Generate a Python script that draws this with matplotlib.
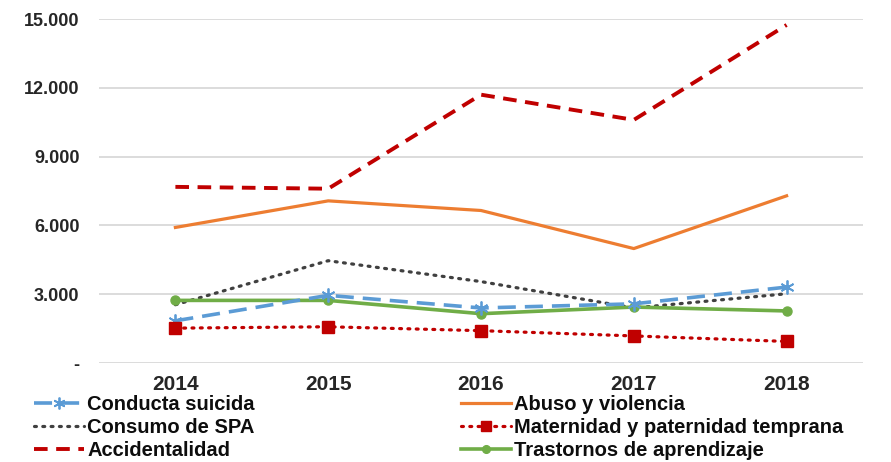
import matplotlib
matplotlib.use("Agg")
import matplotlib.pyplot as plt

years = ["2014", "2015", "2016", "2017", "2018"]
conducta_suicida = [1840, 2950, 2400, 2580, 3310]
abuso_violencia = [5910, 7070, 6650, 4990, 7290]
consumo_spa = [2540, 4460, 3550, 2400, 3020]
maternidad = [1520, 1580, 1410, 1180, 940]
accidentalidad = [7680, 7600, 11700, 10600, 14740]
trastornos = [2730, 2730, 2150, 2440, 2270]
y_ticks = [0, 3000, 6000, 9000, 12000, 15000]
y_tick_labels = ["-", "3.000", "6.000", "9.000", "12.000", "15.000"]

plt.rcParams['font.family'] = ['Liberation Sans', 'DejaVu Sans']
plt.rcParams['font.weight'] = 'bold'

fig = plt.figure(figsize=(8.91, 4.62), dpi=100)
ax = fig.add_axes([99/891, 1 - 363/462, (863-99)/891, (363-19)/462])

x = list(range(len(years)))
blue = '#5B9BD5'
orange = '#ED7D31'
gray = '#404040'
red = '#C00000'
green = '#70AD47'

asterisk = (6, 2, 0)
l_cs, = ax.plot(x, conducta_suicida, color=blue, lw=2.6, dashes=(5, 2.5),
                marker=asterisk, ms=10, mew=1.3, label='Conducta suicida', zorder=4)
l_ab, = ax.plot(x, abuso_violencia, color=orange, lw=2.3, label='Abuso y violencia', zorder=3)
l_sp, = ax.plot(x, consumo_spa, color=gray, lw=2.3, linestyle=(0, (0.6, 2.0)),
                dash_capstyle='round', label='Consumo de SPA', zorder=3)
l_ma, = ax.plot(x, maternidad, color=red, lw=2.3, linestyle=(0, (0.6, 2.0)),
                dash_capstyle='round', marker='s', ms=8, label='Maternidad y paternidad temprana', zorder=4)
l_ac, = ax.plot(x, accidentalidad, color=red, lw=2.8, dashes=(3.5, 2.2),
                label='Accidentalidad', zorder=3)
l_tr, = ax.plot(x, trastornos, color=green, lw=2.6, marker='o', ms=6.5,
                label='Trastornos de aprendizaje', zorder=3)

ax.set_xlim(-0.5, len(years) - 0.5)
ax.set_ylim(0, 15000)
ax.set_yticks(y_ticks)
ax.set_yticklabels(y_tick_labels, fontsize=13, fontweight='bold', color='#262626')
ax.set_xticks(x)
ax.set_xticklabels(years, fontsize=15, fontweight='bold', color='#262626')
ax.tick_params(axis='both', length=0)
ax.tick_params(axis='y', pad=14)
ax.tick_params(axis='x', pad=9)
ax.grid(axis='y', color='#D9D9D9', lw=1.3)
ax.set_axisbelow(True)
for s in ax.spines.values():
    s.set_visible(False)

common = dict(frameon=False, fontsize=14.5, handlelength=2.5, handletextpad=0.15,
              labelspacing=0.2, borderpad=0, borderaxespad=0, loc='upper left',
              markerscale=0.85)
leg1 = fig.legend(handles=[l_cs, l_sp, l_ac], bbox_to_anchor=(34/891, 1 - 395/462), **common)
leg2 = fig.legend(handles=[l_ab, l_ma, l_tr], bbox_to_anchor=(461/891, 1 - 395/462), **common)
for leg in (leg1, leg2):
    for t in leg.get_texts():
        t.set_fontweight('bold')
        t.set_color('#0D0D0D')

fig.savefig('out.png', dpi=100)
